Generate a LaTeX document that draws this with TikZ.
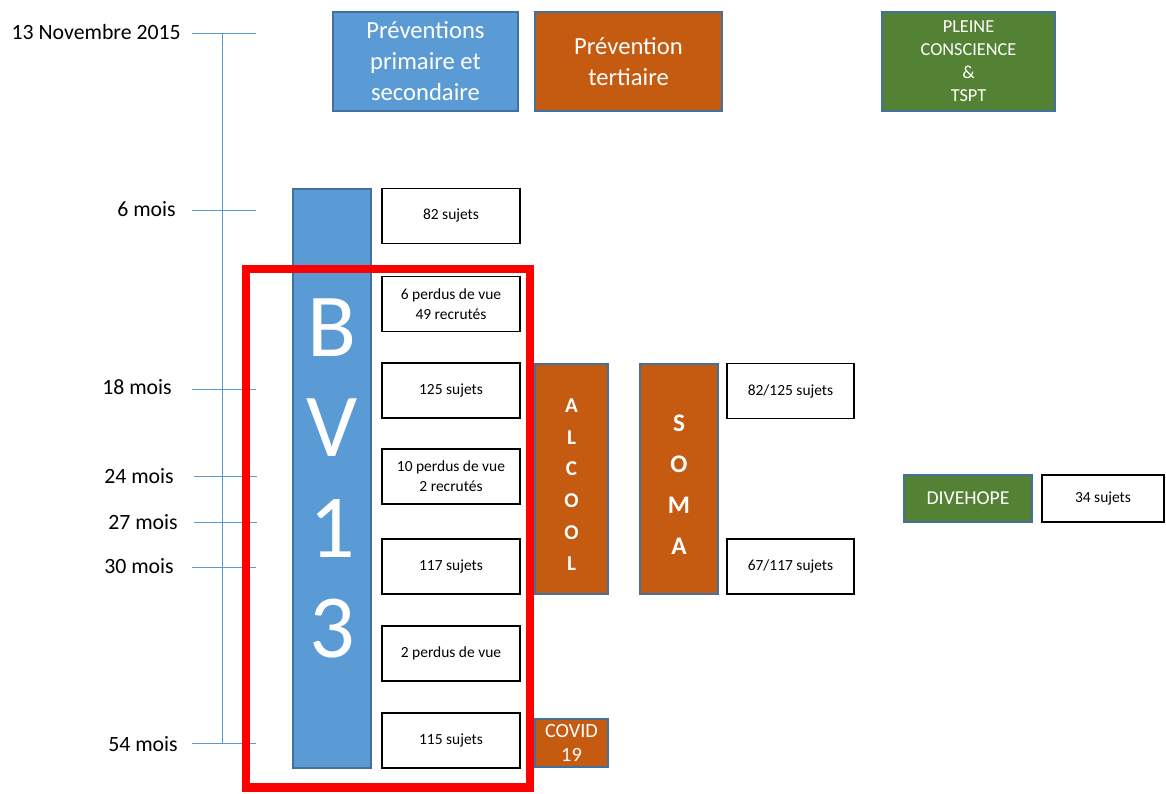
\documentclass[tikz,border=0pt]{standalone}
\usepackage{fontspec}
\setmainfont{Carlito}
\definecolor{bvblue}{HTML}{5B9BD5}
\definecolor{edgeblue}{HTML}{41719C}
\definecolor{prevorange}{HTML}{C55A11}
\definecolor{pcgreen}{HTML}{548235}

\begin{document}
\begin{tikzpicture}[x=0.025cm,y=-0.025cm,
  colbox/.style={draw=edgeblue, line width=1.1pt, inner sep=0pt, text=white, align=center},
  bluebox/.style={colbox, fill=bvblue},
  orangebox/.style={colbox, fill=prevorange},
  greenbox/.style={colbox, fill=pcgreen},
  sujbox/.style={draw=black, line width=1.4pt, fill=white, inner sep=0pt, align=center,
    minimum width=3.45cm, minimum height=1.375cm, font=\fontsize{11}{14}\selectfont},
  moislabel/.style={anchor=east, inner sep=0pt, font=\fontsize{15.5}{18}\selectfont},
  tick/.style={draw=bvblue, line width=0.6pt}]
  \useasboundingbox (0,0) rectangle (1166,794);

  % ligne du temps
  \coordinate (t0) at (222,33);
  \coordinate (t54) at (222,743);
  \draw[tick] (t0) -- (t54);
  \coordinate (a0) at (192,33);   \coordinate (b0) at (256,33);
  \coordinate (a6) at (192,210);  \coordinate (b6) at (256,210);
  \coordinate (a18) at (192,389); \coordinate (b18) at (256,389);
  \coordinate (a24) at (194,476); \coordinate (b24) at (257,476);
  \coordinate (a27) at (194,522); \coordinate (b27) at (257,522);
  \coordinate (a30) at (192,567); \coordinate (b30) at (256,567);
  \coordinate (a54) at (192,743); \coordinate (b54) at (256,743);
  \draw[tick] (a0) -- (b0);
  \draw[tick] (a6) -- (b6);
  \draw[tick] (a18) -- (b18);
  \draw[tick] (a24) -- (b24);
  \draw[tick] (a27) -- (b27);
  \draw[tick] (a30) -- (b30);
  \draw[tick] (a54) -- (b54);
  \node[moislabel] (l0) at (181,32) {13 Novembre 2015};
  \node[moislabel] (l6) at (176,209) {6 mois};
  \node[moislabel] (l18) at (172,387) {18 mois};
  \node[moislabel] (l24) at (174,476) {24 mois};
  \node[moislabel] (l27) at (178,522) {27 mois};
  \node[moislabel] (l30) at (174,566) {30 mois};
  \node[moislabel] (l54) at (178,744) {54 mois};

  % titres
  \node[bluebox, minimum width=4.625cm, minimum height=2.475cm,
    font=\fontsize{17.5}{22}\selectfont] (prevps) at (425.5,61.5)
    {Préventions\\primaire et\\secondaire};
  \node[orangebox, minimum width=4.675cm, minimum height=2.475cm,
    font=\fontsize{17.5}{22}\selectfont] (prevt) at (628.5,61.5)
    {Prévention\\tertiaire};
  \node[greenbox, minimum width=4.325cm, minimum height=2.475cm,
    font=\fontsize{13}{16.4}\selectfont] (pleine) at (968.5,61.5)
    {PLEINE\\CONSCIENCE\\\&\\TSPT};

  % BV13
  \node[bluebox, minimum width=1.95cm, minimum height=14.475cm,
    font=\fontsize{64}{71.5}\selectfont] (bv) at (332,478.5) {B\\V\\1\\3};
  \node[sujbox] (s6) at (451,216) {82 sujets};
  \node[sujbox] (s12) at (451,304) {6 perdus de vue\\49 recrutés};
  \node[sujbox] (s18) at (451,390.5) {125 sujets};
  \node[sujbox] (s24) at (451,476.5) {10 perdus de vue\\2 recrutés};
  \node[sujbox] (s30) at (451,566.5) {117 sujets};
  \node[sujbox] (s42) at (451,653.5) {2 perdus de vue};
  \node[sujbox] (s54) at (451,740.5) {115 sujets};

  % tertiaire
  \node[orangebox, minimum width=1.825cm, minimum height=5.75cm,
    font=\fontsize{15}{22.5}\selectfont\bfseries] (alcool) at (571.5,479)
    {\rule{0pt}{18pt}A\\L\\C\\O\\O\\L};
  \node[orangebox, minimum width=1.95cm, minimum height=5.75cm,
    font=\fontsize{18}{29}\selectfont\bfseries] (soma) at (679,479)
    {\rule{0pt}{20pt}S\\O\\M\\A};
  \node[sujbox, minimum width=3.175cm] (soma18) at (790.5,391) {82/125 sujets};
  \node[sujbox, minimum width=3.175cm] (soma30) at (790.5,566.5) {67/117 sujets};
  \node[orangebox, minimum width=1.825cm, minimum height=1.2cm,
    font=\fontsize{14.4}{17}\selectfont] (covid) at (571.5,743) {COVID\\19};

  % pleine conscience
  \node[greenbox, minimum width=3.2cm, minimum height=1.175cm,
    font=\fontsize{14}{17}\selectfont] (divehope) at (968,498.5) {DIVEHOPE};
  \node[sujbox, minimum width=3.05cm, minimum height=1.175cm] (s34) at (1103,498.5) {34 sujets};

  % cadre rouge
  \draw[red, line width=5.8pt] (246,269) rectangle (530,787.5);
\end{tikzpicture}
\end{document}
